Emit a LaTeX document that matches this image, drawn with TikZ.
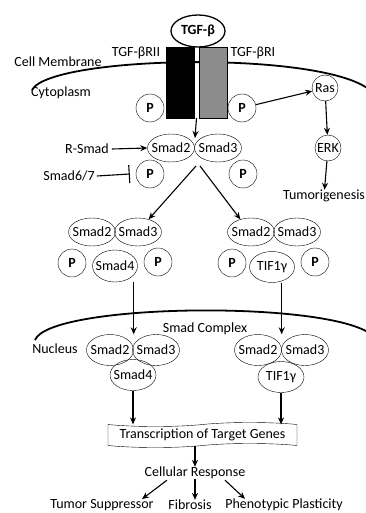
\documentclass[tikz,border=0pt]{standalone}
\usepackage{fontspec}
\setmainfont{Carlito}
\usetikzlibrary{shapes.geometric}
\usetikzlibrary{shapes.symbols}
\usetikzlibrary {arrows.meta}

\newcommand{\figfont}{\fontsize{14}{16}\selectfont}

\tikzset{
  prot/.style={ellipse,draw,inner xsep=-4pt,inner ysep=2pt,minimum width=47pt,minimum height=28pt},
  phos/.style={circle,draw,inner sep=0pt,minimum size=28pt,font=\figfont\bfseries},
  kin/.style={circle,draw,inner sep=0pt,minimum size=26pt},
  lbl/.style={inner sep=0pt},
  arr/.style={-{Stealth[length=7pt,width=6pt]},line width=1.1pt},
  membrane/.style={line width=1.8pt}
}

\begin{document}
\begin{tikzpicture}[x=1pt,y=-1pt,font=\figfont]
\useasboundingbox (0,0) rectangle (366,513);

\draw[membrane] (32,90) .. controls (50,55) and (330,50) .. (372,92);
\draw[membrane] (35,340) .. controls (50,303) and (330,300) .. (372,335);

\node[prot,line width=1.3pt,minimum width=54pt,minimum height=32pt,font=\figfont\bfseries] (tgf) at (198,31) {TGF-β};
\node[draw,fill=black,inner sep=0pt,minimum width=28pt,minimum height=71pt] (rII) at (180,82.5) {};
\node[draw,fill=black!45,inner sep=0pt,minimum width=28pt,minimum height=71pt] (rI) at (213,82.5) {};

\node[lbl] (cm) at (58,62) {Cell Membrane};
\node[lbl] (rIIlbl) at (136,53) {TGF-βRII};
\node[lbl] (rIlbl) at (253,53) {TGF-βRI};
\node[lbl] (cyto) at (61,93) {Cytoplasm};

\node[phos] (pII) at (150,108) {P};
\node[phos] (pI) at (242,108) {P};
\node[kin] (ras) at (325,88) {Ras};
\node[kin] (erk) at (328,148) {ERK};
\node[lbl] (tum) at (324,196) {Tumorigenesis};

\node[prot] (sA) at (171,148) {Smad2};
\node[prot] (sB) at (218,148) {Smad3};
\node[phos] (sPa) at (150,174) {P};
\node[phos] (sPb) at (243,174) {P};
\node[lbl] (rsmad) at (87,149) {R-Smad};
\node[lbl] (s67) at (69,176) {Smad6/7};

\coordinate (gap) at (196.5,118);
\coordinate (junc) at (195,138);
\coordinate (split) at (196,166);

% cytoplasm complexes
\node[prot] (lA) at (92,232) {Smad2};
\node[prot] (lB) at (138,232) {Smad3};
\node[phos] (lPa) at (72,263) {P};
\node[phos] (lPb) at (158,262) {P};
\node[prot,minimum width=45pt,minimum height=32pt] (lD) at (115,266) {Smad4};

\node[prot] (rA) at (251,232) {Smad2};
\node[prot] (rB) at (297,232) {Smad3};
\node[phos] (rPa) at (232,263) {P};
\node[phos] (rPb) at (315,262) {P};
\node[prot,minimum width=45pt,minimum height=31pt] (rD) at (272,267) {TIF1γ};

% nucleus
\node[lbl] (scx) at (205,329) {Smad Complex};
\node[lbl] (nuc) at (55,349) {Nucleus};

\node[prot,minimum height=31pt] (lnA) at (110,350) {Smad2};
\node[prot,minimum height=31pt] (lnB) at (156,350) {Smad3};
\node[prot,minimum width=46pt,minimum height=31pt] (lnD) at (133,375) {Smad4};

\node[prot,minimum height=31pt] (rnA) at (258,350) {Smad2};
\node[prot,minimum height=31pt] (rnB) at (305,350) {Smad3};
\node[prot,minimum width=46pt,minimum height=31pt] (rnD) at (281,377) {TIF1γ};

\node[tape,draw,inner sep=0pt,minimum width=189pt,minimum height=25pt,tape bend height=4pt] (tx) at (202.5,435) {Transcription of Target Genes};
\node[lbl] (cr) at (195,473) {Cellular Response};
\node[lbl] (ts) at (102,505) {Tumor Suppressor};
\node[lbl] (fib) at (190,505) {Fibrosis};
\node[lbl] (pp) at (284,505) {Phenotypic Plasticity};

\draw[arr] (pI) -- (ras);
\draw[arr] (ras) -- (erk);
\draw[arr] (erk) -- (tum);
\draw[arr] (gap) -- (junc);
\draw[arr] ([xshift=3pt]rsmad.east) -- (sA.west);
\draw[line width=1.1pt,-{Bar[width=18pt]}] ([xshift=2pt]s67.east) -- ([xshift=-6pt]sPa.west);
\draw[arr] (split) -- (lB.50);
\draw[arr] ([xshift=4pt]split) -- (rA.130);

\draw[arr] (lD.south -| lnA.east) -- (lnA.east |- lnA.north);
\draw[arr] (rD.south -| rnA.east) -- (rnA.east |- rnA.north);
\draw[arr] (lnD.south) -- (lnD.south |- tx.north);
\draw[arr] (rnD.south) -- (rnD.south |- tx.north);
\draw[arr] (tx.south -| cr.north) -- (cr.north);
\draw[arr] ([xshift=-28pt,yshift=-1pt]cr.south) -- ([xshift=40pt]ts.north);
\draw[arr] (cr.south) -- (cr.south |- fib.north);
\draw[arr] ([xshift=30pt,yshift=-1pt]cr.south) -- ([xshift=-39pt]pp.north);
\end{tikzpicture}
\end{document}
